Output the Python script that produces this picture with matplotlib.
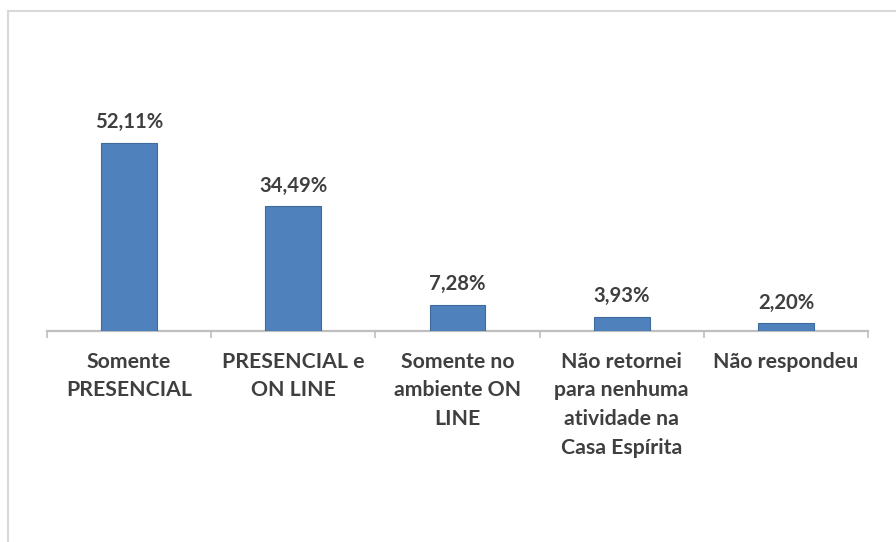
import matplotlib
matplotlib.use("Agg")
import matplotlib.pyplot as plt
from matplotlib.lines import Line2D
import numpy as np

categories = ["Somente\nPRESENCIAL", "PRESENCIAL e\nON LINE", "Somente no\nambiente ON\nLINE",
              "Não retornei\npara nenhuma\natividade na\nCasa Espírita", "Não respondeu"]
values = [52.11, 34.49, 7.28, 3.93, 2.20]
value_labels = ["52,11%", "34,49%", "7,28%", "3,93%", "2,20%"]

plt.rcParams['font.family'] = ['Lato', 'DejaVu Sans']

W, H = 896, 542
fig = plt.figure(figsize=(W / 100, H / 100), dpi=100)
fig.patch.set_facecolor('white')

# axes placement (pixels)
x0, x1 = 47, 868
ybase = 331
ymax = 60.0
px_per = 3.61
top = ybase - ymax * px_per
ax = fig.add_axes([x0 / W, (H - ybase) / H, (x1 - x0) / W, (ybase - top) / H])

n = len(values)
x = np.arange(n)
ax.bar(x, values, width=0.34, color='#4F81BD', edgecolor='#3E6A9C', linewidth=0.8, zorder=3)
ax.set_xlim(-0.5, n - 0.5)
ax.set_ylim(0, ymax)

for xi, v, lab in zip(x, values, value_labels):
    ax.annotate(lab, (xi, v), xytext=(0, 7.5), textcoords='offset points', ha='center', va='bottom',
                fontsize=14.6, fontweight='bold', color='#3F3F3F', annotation_clip=False)

for s in ['top', 'right', 'left']:
    ax.spines[s].set_visible(False)
ax.spines['bottom'].set_color('#BFBFBF')
ax.spines['bottom'].set_linewidth(1.6)
ax.set_yticks([])

ax.set_xticks(x)
ax.set_xticklabels(categories, fontsize=15.3, fontweight='bold', color='#3F3F3F', linespacing=1.54, va='top')
ax.tick_params(axis='x', which='major', length=0, pad=15)
ax.set_xticks(np.arange(n + 1) - 0.5, minor=True)
ax.tick_params(axis='x', which='minor', length=5, width=1.2, color='#BFBFBF', direction='out')

# chart frame lines (partially visible)
fig.add_artist(Line2D([8 / W, 1.0], [1 - 11 / H, 1 - 11 / H], transform=fig.transFigure,
                      color='#D9D9D9', linewidth=1.5))
fig.add_artist(Line2D([8 / W, 8 / W], [1 - 11 / H, 0.0], transform=fig.transFigure,
                      color='#D9D9D9', linewidth=1.5))

fig.savefig('out.png', dpi=100, facecolor='white')
